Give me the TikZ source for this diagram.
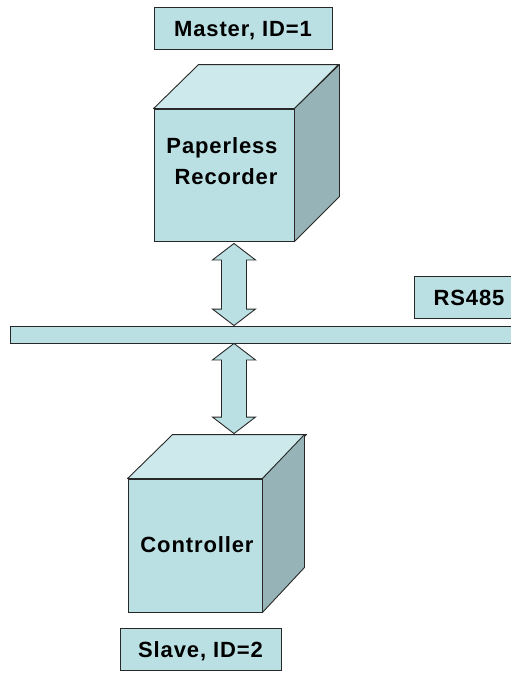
\documentclass[tikz,border=0pt]{standalone}
\usepackage{fontspec}
\setsansfont{Liberation Sans}
\newfontfamily\lbfam[LetterSpace=4]{Liberation Sans}
\usetikzlibrary{calc}
\definecolor{cface}{RGB}{187,224,227}
\definecolor{ctop}{RGB}{205,233,235}
\definecolor{cside}{RGB}{150,180,183}
\definecolor{cedge}{RGB}{40,40,40}
\begin{document}
\begin{tikzpicture}[x=1pt,y=-1pt,
  lbl/.style={draw=cedge, fill=cface, line width=0.9pt, inner sep=0pt,
    font=\lbfam\bfseries\fontsize{22}{31}\selectfont, text height=16pt, text depth=0pt},
  cubef/.style={draw=cedge, fill=cface, line width=0.9pt, inner sep=0pt,
    font=\lbfam\bfseries\fontsize{22}{31}\selectfont, align=center},
  cubetop/.style={draw=cedge, fill=ctop, line width=0.9pt, line join=round},
  cubeside/.style={draw=cedge, fill=cside, line width=0.9pt, line join=round},
  arr/.style={draw=cedge, fill=cface, line width=0.9pt, line join=miter},
  txt/.style={inner sep=0pt, font=\lbfam\bfseries\fontsize{22}{31}\selectfont}
]
\useasboundingbox (0,0) rectangle (511,673);
\clip (0,0) rectangle (511,673);

% bus and RS485 label
\node[lbl, minimum width=510pt, minimum height=17pt, text height=0pt] (bus) at (265,334.5) {};
\node[lbl, minimum width=110pt, minimum height=42pt] (rs) at (469,297) {RS485};

% master
\node[lbl, minimum width=178pt, minimum height=42pt] (master) at (243,28) {Master, ID=1};
\node[cubef, minimum width=140pt, minimum height=132pt] (prf) at (224,175) {};
\draw[cubetop] (prf.north west) -- ++(45,-44) -- ++(140,0) -- (prf.north east) -- cycle;
\draw[cubeside] (prf.north east) -- ++(45,-44) -- ++(0,132) -- (prf.south east) -- cycle;
\node[txt, align=center, text height=16pt, text depth=0pt] (prt) at (222,176) {Paperless\\\hspace*{8pt}Recorder};

% slave
\node[cubef, minimum width=134pt, minimum height=133pt] (ctf) at (195,545.5) {};
\draw[cubetop] (ctf.north west) -- ++(45,-44) -- ++(134,0) -- (ctf.north east) -- cycle;
\draw[cubeside] (ctf.north east) -- ++(42,-44) -- ++(0,133) -- (ctf.south east) -- cycle;
\node[txt, text height=16pt, text depth=0pt] (ctt) at (197,544) {Controller};
\node[lbl, minimum width=161pt, minimum height=42pt] (slave) at (200.5,649) {Slave, ID=2};

% double arrows
\coordinate (ax) at (234,0);
\coordinate (a1t) at ($(ax |- prf.south)+(0,2)$);
\coordinate (a1b) at (ax |- bus.north);
\coordinate (a2t) at (ax |- bus.south);
\coordinate (a2b) at ($(ax |- ctf.north)+(0,-45)$);
\foreach \t/\b in {a1t/a1b, a2t/a2b}{
  \draw[arr] (\t) -- ($(\t)+(21.5,16.5)$) -- ($(\t)+(12.5,16.5)$)
    -- ($(\b)+(12.5,-16.5)$) -- ($(\b)+(21.5,-16.5)$) -- (\b)
    -- ($(\b)+(-21.5,-16.5)$) -- ($(\b)+(-12.5,-16.5)$)
    -- ($(\t)+(-12.5,16.5)$) -- ($(\t)+(-21.5,16.5)$) -- cycle;
}
\end{tikzpicture}
\end{document}
